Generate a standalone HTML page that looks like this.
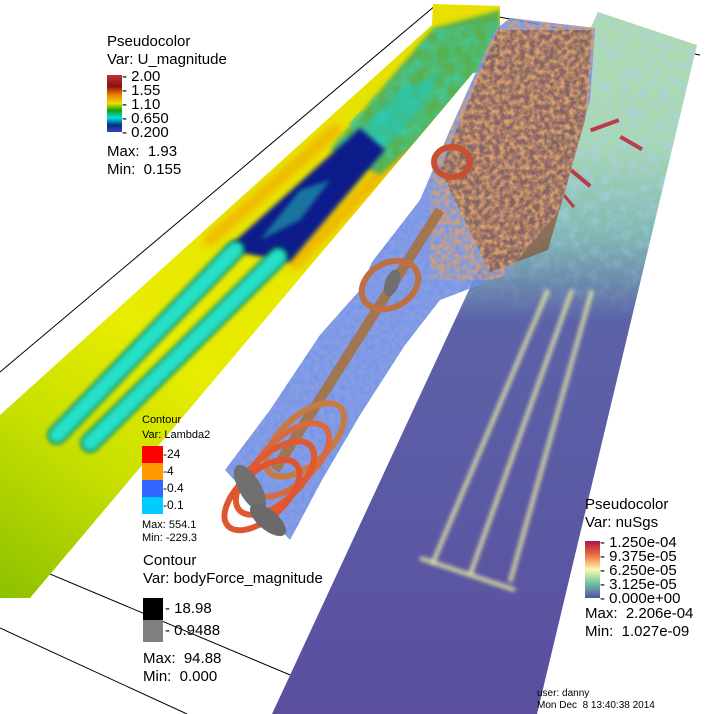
<!DOCTYPE html>
<html><head><meta charset="utf-8">
<style>
html,body{margin:0;padding:0;background:#fff;}
#wrap{position:relative;width:711px;height:714px;overflow:hidden;font-family:"Liberation Sans",sans-serif;}
svg{position:absolute;left:0;top:0;}
.t{position:absolute;color:#000;white-space:nowrap;line-height:1;}
</style></head>
<body>
<div id="wrap">
<svg width="711" height="714" viewBox="0 0 711 714">
<defs>
<linearGradient id="gLeft" x1="0" y1="1" x2="0.6" y2="0">
<stop offset="0" stop-color="#8cc000"/><stop offset="0.25" stop-color="#c8e000"/><stop offset="0.45" stop-color="#e8ec00"/><stop offset="1" stop-color="#e8e000"/>
</linearGradient>
<linearGradient id="gRight" x1="0" y1="0" x2="0" y2="1">
<stop offset="0" stop-color="#b0dcb0"/><stop offset="0.2" stop-color="#a8d8b4"/><stop offset="0.33" stop-color="#80b8b4"/><stop offset="0.45" stop-color="#5c62a8"/><stop offset="1" stop-color="#5a4f9f"/>
</linearGradient>
<linearGradient id="fadeG" x1="0" y1="0" x2="0" y2="1">
<stop offset="0" stop-color="#fff"/><stop offset="0.6" stop-color="#fff"/><stop offset="1" stop-color="#000"/>
</linearGradient>
<mask id="fadeM"><rect x="260" y="0" width="451" height="320" fill="url(#fadeG)"/></mask>
<filter id="blur2"><feGaussianBlur stdDeviation="2"/></filter>
<filter id="blur4"><feGaussianBlur stdDeviation="4"/></filter>
<filter id="noiseB" x="0" y="0" width="1" height="1"><feTurbulence type="fractalNoise" baseFrequency="0.2" numOctaves="2" seed="3"/><feColorMatrix values="0 0 0 0 0.18  0 0 0 0 0.30  0 0 0 0 0.80  0 0 0 2.0 -0.55"/></filter>
<filter id="noiseO" x="0" y="0" width="1" height="1"><feTurbulence type="fractalNoise" baseFrequency="0.2" numOctaves="2" seed="7"/><feColorMatrix values="0 0 0 0 0.70  0 0 0 0 0.35  0 0 0 0 0.15  0 0 0 2.4 -0.8"/></filter>
<filter id="noiseG"><feTurbulence type="fractalNoise" baseFrequency="0.08" numOctaves="2" seed="11"/><feColorMatrix values="0 0 0 0 0.05  0 0 0 0 0.60  0 0 0 0 0.40  0 0 0 1.6 -0.5"/></filter>
<filter id="noiseL"><feTurbulence type="fractalNoise" baseFrequency="0.1" numOctaves="2" seed="5"/><feColorMatrix values="0 0 0 0 0.40  0 0 0 0 0.62  0 0 0 0 0.82  0 0 0 1.6 -0.65"/></filter>
<clipPath id="clipL"><polygon points="433,4 500,6 500,69 473,73 30,598 0,598 0,415 432,25"/></clipPath>
<clipPath id="clipR"><polygon points="598,12 697,45 537,714 272,714"/></clipPath>
<clipPath id="clipT"><polygon points="225,470 270,410 320,335 360,290 372,262 420,200 450,130 495,30 510,18 595,28 590,100 560,210 505,275 440,300 405,345 360,415 322,480 290,540"/></clipPath>
<clipPath id="clipTurb"><polygon points="330,145 433,30 500,20 500,69 380,170"/></clipPath>
</defs>
<line x1="0" y1="372" x2="436" y2="5" stroke="#000" stroke-width="1"/>
<line x1="436" y1="5" x2="700" y2="55" stroke="#000" stroke-width="1"/>
<line x1="0" y1="553" x2="383" y2="714" stroke="#000" stroke-width="1"/>
<line x1="0" y1="628" x2="187" y2="714" stroke="#000" stroke-width="1"/>

<g clip-path="url(#clipL)">
<rect x="0" y="0" width="510" height="600" fill="url(#gLeft)"/>
<g stroke-linecap="round" filter="url(#blur4)" opacity="0.85">
<line x1="210" y1="240" x2="335" y2="130" stroke="#f0b000" stroke-width="12"/>
<line x1="295" y1="262" x2="440" y2="112" stroke="#f0b000" stroke-width="14"/>
</g>
<polygon points="330,150 433,28 500,10 500,69 380,175" fill="#58b050" filter="url(#blur2)"/>
<rect x="0" y="0" width="510" height="200" filter="url(#noiseG)" clip-path="url(#clipTurb)"/>
<polygon points="335,155 400,90 440,75 420,110 375,160" fill="#20c8c0" opacity="0.6" filter="url(#blur2)"/>
<polygon points="225,250 290,262 385,150 360,128" fill="#0d1e8a" filter="url(#blur2)"/>
<polygon points="260,240 300,220 330,180 300,190" fill="#20b0b0" opacity="0.6" filter="url(#blur2)"/>
<g stroke-linecap="round" filter="url(#blur2)">
<line x1="57" y1="435" x2="235" y2="250" stroke="#0c9060" stroke-width="20"/>
<line x1="90" y1="443" x2="278" y2="257" stroke="#0c9060" stroke-width="20"/>
<line x1="57" y1="435" x2="235" y2="250" stroke="#28e0c8" stroke-width="14"/>
<line x1="90" y1="443" x2="278" y2="257" stroke="#28e0c8" stroke-width="14"/>
</g>
</g>

<g clip-path="url(#clipR)">
<rect x="260" y="0" width="451" height="714" fill="url(#gRight)"/>
<rect x="260" y="0" width="451" height="320" filter="url(#noiseL)" mask="url(#fadeM)"/>
<g fill="#c0203a" opacity="0.85">
<rect x="590" y="125" width="30" height="4" transform="rotate(-20 600 127)"/>
<rect x="620" y="140" width="25" height="4" transform="rotate(30 630 140)"/>
<rect x="570" y="175" width="25" height="4" transform="rotate(40 580 175)"/>
<rect x="560" y="200" width="18" height="3" transform="rotate(50 570 200)"/>
</g>
<g stroke="#eef0a0" stroke-width="4" fill="none" filter="url(#blur2)" opacity="0.9">
<line x1="432" y1="565" x2="548" y2="290"/>
<line x1="470" y1="575" x2="572" y2="290"/>
<line x1="510" y1="582" x2="592" y2="290"/>
<line x1="420" y1="558" x2="515" y2="590"/>
</g>
</g>

<g>
<polygon points="225,470 270,410 320,335 360,290 372,262 420,200 450,130 495,30 510,18 595,28 590,100 560,210 505,275 440,300 405,345 360,415 322,480 290,540" fill="#6c86dc" opacity="0.8"/>
<rect x="220" y="15" width="380" height="530" filter="url(#noiseB)" clip-path="url(#clipT)"/>
<polygon points="440,170 498,30 592,30 585,120 548,250 490,272" fill="#8a5030" opacity="0.7"/>
<rect x="430" y="20" width="170" height="260" filter="url(#noiseO)" clip-path="url(#clipT)"/>
<line x1="275" y1="470" x2="440" y2="210" stroke="#a87038" stroke-width="10" opacity="0.85"/>
<g fill="none" stroke-width="6">
<ellipse cx="452" cy="162" rx="18" ry="15" stroke="#c85030"/>
<ellipse cx="390" cy="285" rx="30" ry="22" stroke="#c07040" transform="rotate(-30 390 285)"/>
<ellipse cx="305" cy="440" rx="48" ry="24" stroke="#c87a40" transform="rotate(-42 305 440)"/>
<ellipse cx="290" cy="460" rx="48" ry="24" stroke="#d86a40" transform="rotate(-42 290 460)"/>
<ellipse cx="275" cy="478" rx="48" ry="24" stroke="#e05a30" transform="rotate(-42 275 478)"/>
<ellipse cx="262" cy="495" rx="46" ry="23" stroke="#e05530" transform="rotate(-42 262 495)"/>
</g>
<ellipse cx="250" cy="488" rx="26" ry="11" fill="#707070" transform="rotate(60 250 488)"/>
<ellipse cx="268" cy="520" rx="22" ry="10" fill="#6a6a6a" transform="rotate(40 268 520)"/>
<ellipse cx="392" cy="283" rx="7" ry="14" fill="#707070" transform="rotate(20 392 283)"/>
</g>
</svg>

<div class="t" style="left:107px;top:34px;font-size:15px">Pseudocolor</div>
<div class="t" style="left:107px;top:52px;font-size:15px">Var: U_magnitude</div>
<div style="position:absolute;left:107px;top:75px;width:15px;height:57px;background:linear-gradient(#c03030,#8a1010 20%,#f08000 35%,#e8e000 50%,#10a010 62%,#00e0e0 75%,#003080 88%,#4040c0)"></div>
<div class="t" style="left:107px;top:144px;font-size:15px">Max:&nbsp; 1.93</div>
<div class="t" style="left:107px;top:162px;font-size:15px">Min:&nbsp; 0.155</div>

<div class="t" style="left:142px;top:415px;font-size:11px">Contour</div>
<div class="t" style="left:142px;top:430px;font-size:11px">Var: Lambda2</div>
<div class="t" style="left:142px;top:520px;font-size:11px">Max: 554.1</div>
<div class="t" style="left:142px;top:533px;font-size:11px">Min: -229.3</div>

<div class="t" style="left:143px;top:553px;font-size:15px">Contour</div>
<div class="t" style="left:143px;top:571px;font-size:15px">Var: bodyForce_magnitude</div>
<div class="t" style="left:143px;top:651px;font-size:15px">Max:&nbsp; 94.88</div>
<div class="t" style="left:143px;top:669px;font-size:15px">Min:&nbsp; 0.000</div>

<div class="t" style="left:585px;top:497px;font-size:15px">Pseudocolor</div>
<div class="t" style="left:585px;top:515px;font-size:15px">Var: nuSgs</div>
<div style="position:absolute;left:585px;top:541px;width:15px;height:57px;background:linear-gradient(#a8154a,#f07040 25%,#fafab0 50%,#70c0a0 75%,#5050a8)"></div>
<div class="t" style="left:585px;top:606px;font-size:15px">Max:&nbsp; 2.206e-04</div>
<div class="t" style="left:585px;top:624px;font-size:15px">Min:&nbsp; 1.027e-09</div>

<div class="t" style="left:537px;top:689px;font-size:10px">user: danny</div>
<div class="t" style="left:537px;top:701px;font-size:10px">Mon Dec&nbsp; 8 13:40:38 2014</div>
</div>
<script>
const uLabels = ["2.00","1.55","1.10","0.650","0.200"];
const lLabels = ["-24","-4","-0.4","-0.1"];
const lColors = ["#ff0000","#ff9900","#3366ff","#00ccff"];
const bLabels = ["18.98","0.9488"];
const bColors = ["#000000","#808080"];
const nLabels = ["1.250e-04","9.375e-05","6.250e-05","3.125e-05","0.000e+00"];
const wrap = document.getElementById('wrap');
function tickList(labels, x, y0, step, size, name){
  labels.forEach((s,i)=>{
    const d=document.createElement('div');
    d.className='t';
    d.style.left=x+'px';d.style.top=(y0+i*step)+'px';d.style.fontSize=size+'px';
    d.textContent='- '+s;
    
    
    wrap.appendChild(d);
  });
}
tickList(uLabels,122,69,14,15,'u-tick-label');
tickList(nLabels,600,535,14,15,'nusgs-tick-label');
lLabels.forEach((s,i)=>{
  const b=document.createElement('div');
  b.style.cssText='position:absolute;left:142px;width:21px;height:17px;top:'+(446+i*17)+'px;background:'+lColors[i];
  
  
  wrap.appendChild(b);
  const t=document.createElement('div');
  t.className='t';t.style.left='163px';t.style.top=(448+i*17)+'px';t.style.fontSize='12px';
  t.textContent=s;
  
  
  wrap.appendChild(t);
});
bLabels.forEach((s,i)=>{
  const b=document.createElement('div');
  b.style.cssText='position:absolute;left:143px;width:20px;height:22px;top:'+(598+i*22)+'px;background:'+bColors[i];
  
  
  wrap.appendChild(b);
  const t=document.createElement('div');
  t.className='t';t.style.left='165px';t.style.top=(601+i*22)+'px';t.style.fontSize='15px';
  t.textContent='- '+s;
  
  
  wrap.appendChild(t);
});
</script>
</body></html>
